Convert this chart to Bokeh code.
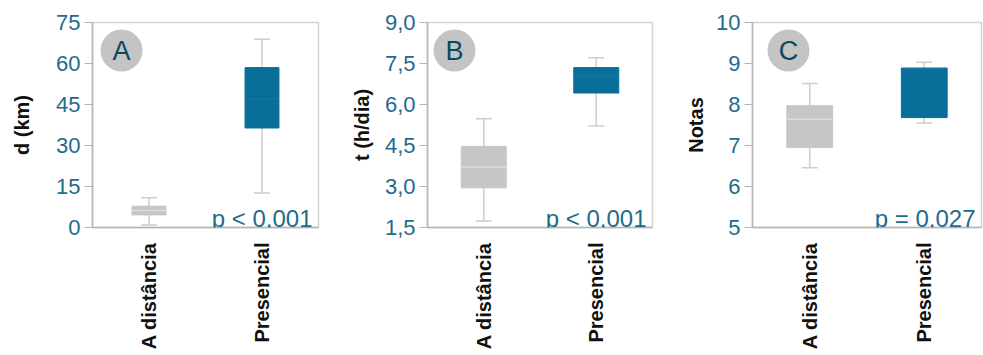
import math
from bokeh.plotting import figure
from bokeh.models import (ColumnDataSource, FactorRange, Range1d, FixedTicker, Whisker,
                          TeeHead, Label, BoxAnnotation)
from bokeh.transform import dodge
from bokeh.layouts import row
from bokeh.embed import file_html
from bokeh.resources import INLINE

groups = ["A distância", "Presencial"]

# Panel A: distance (km)
d_lower = [0.9, 12.6]
d_q1 = [4.6, 36.4]
d_median = [6.2, 47.0]
d_q3 = [7.8, 58.5]
d_upper = [10.9, 68.9]
d_ticks = [0, 15, 30, 45, 60, 75]
d_tick_labels = ["0", "15", "30", "45", "60", "75"]

# Panel B: time (h/dia)
t_lower = [1.74, 5.21]
t_q1 = [2.95, 6.42]
t_median = [3.71, 7.06]
t_q3 = [4.47, 7.35]
t_upper = [5.48, 7.71]
t_ticks = [1.5, 3.0, 4.5, 6.0, 7.5, 9.0]
t_tick_labels = ["1,5", "3,0", "4,5", "6,0", "7,5", "9,0"]

# Panel C: grades
n_lower = [6.46, 7.55]
n_q1 = [6.95, 7.68]
n_median = [7.64, 8.86]
n_q3 = [7.97, 8.89]
n_upper = [8.51, 9.03]
n_ticks = [5, 6, 7, 8, 9, 10]
n_tick_labels = ["5", "6", "7", "8", "9", "10"]

panel_letters = ["A", "B", "C"]
y_titles = ["d (km)", "t (h/dia)", "Notas"]
p_values = ["p < 0,001", "p < 0,001", "p = 0,027"]

FONT = "Liberation Sans"
TEAL = "#1e6b8c"
BOX_COLORS = ["#c6c6c6", "#0a6e9b"]
MEDIAN_COLORS = ["#dcdcdc", "#16749f"]
AXIS_GRAY = "#b4b4b4"


def make_panel(letter, ytitle, pval, lower, q1, med, q3, upper, ticks, tick_labels,
               frame_w, border_l, border_r, label_standoff, badge_x, box_w):
    src = ColumnDataSource(dict(g=groups, lower=lower, q1=q1, med=med, q3=q3, upper=upper,
                                color=BOX_COLORS, mcolor=MEDIAN_COLORS))
    p = figure(x_range=FactorRange(*groups), y_range=Range1d(ticks[0], ticks[-1]),
               width=border_l + frame_w + border_r, height=355,
               min_border_left=border_l, min_border_right=border_r,
               min_border_top=22, min_border_bottom=128,
               output_backend="svg", toolbar_location=None)
    p.grid.visible = False
    p.outline_line_color = "#d2d2d2"
    p.outline_line_width = 1.5
    p.background_fill_color = "white"
    p.border_fill_color = "white"

    w = Whisker(source=src, base="g", lower="lower", upper="upper",
                line_color="#cdcdcd", line_width=1.5, level="underlay",
                upper_head=TeeHead(size=16, line_color="#cdcdcd", line_width=1.5),
                lower_head=TeeHead(size=16, line_color="#cdcdcd", line_width=1.5))
    p.add_layout(w)

    p.vbar(x="g", top="q3", bottom="q1", width=box_w, fill_color="color",
           line_color="color", source=src)
    p.segment(x0=dodge("g", -box_w / 2, range=p.x_range), x1=dodge("g", box_w / 2, range=p.x_range),
              y0="med", y1="med", line_color="mcolor", line_width=1.5, source=src)

    # y axis
    yax = p.yaxis[0]
    yax.ticker = FixedTicker(ticks=ticks)
    yax.major_label_overrides = {t: l for t, l in zip(ticks, tick_labels)}
    yax.major_label_text_font = FONT
    yax.major_label_text_font_size = "22px"
    yax.major_label_text_color = TEAL
    yax.major_tick_out = 8
    yax.major_tick_in = 0
    yax.minor_tick_out = 0
    yax.minor_tick_in = 0
    yax.major_tick_line_color = AXIS_GRAY
    yax.axis_line_color = AXIS_GRAY
    yax.axis_line_width = 1.5
    yax.major_label_standoff = 4
    yax.axis_label = ytitle
    yax.axis_label_text_font = FONT
    yax.axis_label_text_font_style = "bold"
    yax.axis_label_text_font_size = "20px"
    yax.axis_label_text_color = "#111111"
    yax.axis_label_standoff = label_standoff

    # x axis
    xax = p.xaxis[0]
    xax.major_label_orientation = math.pi / 2
    xax.major_label_text_font = FONT
    xax.major_label_text_font_style = "bold"
    xax.major_label_text_font_size = "20px"
    xax.major_label_text_color = "#111111"
    xax.major_tick_out = 0
    xax.major_tick_in = 0
    xax.axis_line_color = AXIS_GRAY
    xax.axis_line_width = 1.5
    xax.major_label_standoff = 15

    # panel badge
    r = 21
    p.add_layout(BoxAnnotation(left=badge_x - r, right=badge_x + r, bottom=177 - r, top=177 + r,
                               left_units="screen", right_units="screen",
                               bottom_units="screen", top_units="screen",
                               fill_color="#c4c4c4", fill_alpha=1.0, line_color=None,
                               border_radius=r, level="underlay"))
    p.add_layout(Label(x=badge_x, y=177, x_units="screen", y_units="screen", text=letter,
                       text_align="center", text_baseline="middle", text_font=FONT,
                       text_font_size="27px", text_color="#0b4862"))

    # p-value
    p.add_layout(Label(x=frame_w - 6, y=9, x_units="screen", y_units="screen", text=pval,
                       text_align="right", text_baseline="alphabetic", text_font=FONT,
                       text_font_size="24px", text_color=TEAL))
    return p


pA = make_panel(panel_letters[0], y_titles[0], p_values[0], d_lower, d_q1, d_median, d_q3, d_upper,
                d_ticks, d_tick_labels, 226, 92, 22, 20, 29, 0.3)
pB = make_panel(panel_letters[1], y_titles[1], p_values[1], t_lower, t_q1, t_median, t_q3, t_upper,
                t_ticks, t_tick_labels, 225, 87, 18, 9, 27, 0.4)
pC = make_panel(panel_letters[2], y_titles[2], p_values[2], n_lower, n_q1, n_median, n_q3, n_upper,
                n_ticks, n_tick_labels, 229, 82, 2, 6, 36, 0.4)

layout = row(pA, pB, pC)
open("out.html", "w").write(file_html(layout, INLINE))
